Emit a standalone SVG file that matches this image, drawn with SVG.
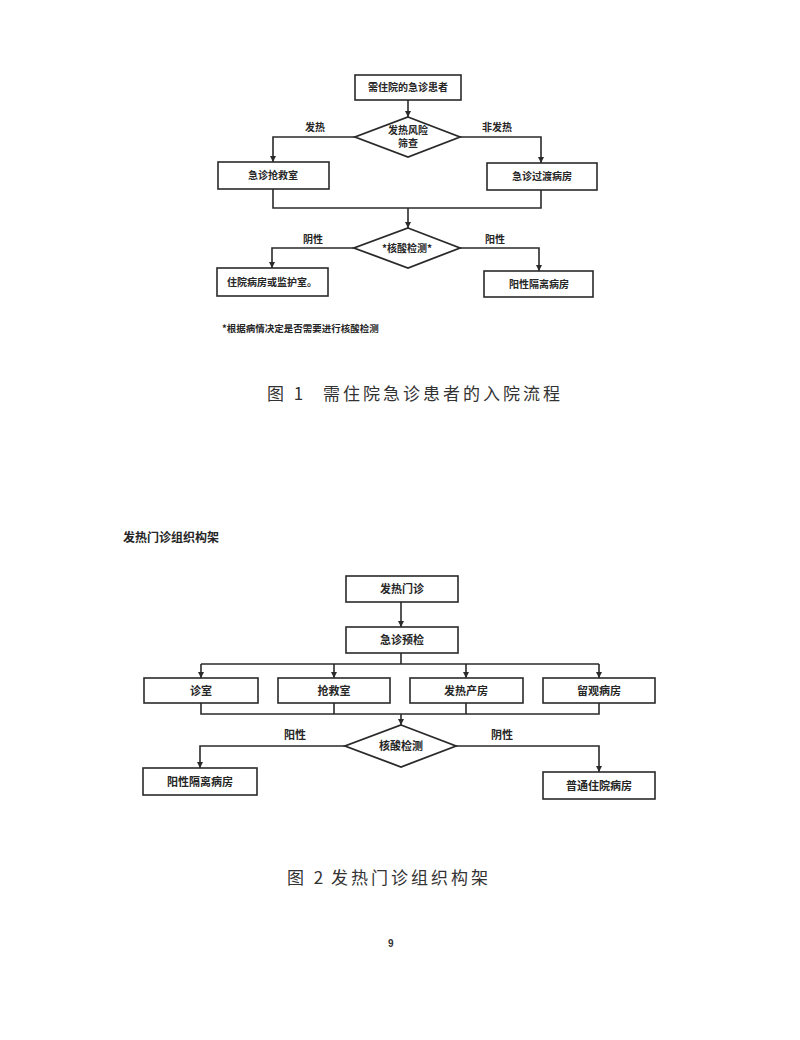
<svg xmlns="http://www.w3.org/2000/svg" width="800" height="1040" viewBox="0 0 800 1040">
<style>
.box{fill:#fff;stroke:#2a2a2a;stroke-width:1.6}
.dia{fill:#fff;stroke:#2a2a2a;stroke-width:1.8}
.ln{fill:none;stroke:#2a2a2a;stroke-width:1.6}
.t{font-family:"Noto Sans CJK SC","Noto Sans",sans-serif;font-weight:bold;fill:#262626;text-anchor:middle}
.s10{font-size:10px}
.s11{font-size:11px}
.cap{font-family:"Noto Sans CJK SC","Noto Sans",sans-serif;font-size:17px;fill:#333;letter-spacing:3px}
</style>
<defs>
<marker id="ah" viewBox="0 0 10 10" refX="10" refY="5" markerWidth="6" markerHeight="6" markerUnits="userSpaceOnUse" orient="auto">
<path d="M0,0 L10,5 L0,10 z" fill="#2a2a2a"/>
</marker>
</defs>
<rect width="800" height="1040" fill="#ffffff"/>

<!-- Figure 1 connectors -->
<g id="connectors1">
<path class="ln" d="M408,100 V117" marker-end="url(#ah)"/>
<path class="ln" d="M355,137 H273 V162" marker-end="url(#ah)"/>
<path class="ln" d="M460,137 H541 V163" marker-end="url(#ah)"/>
<path class="ln" d="M273,189 V208 H541 V190"/>
<path class="ln" d="M408,208 V228" marker-end="url(#ah)"/>
<path class="ln" d="M354,248 H272 V268" marker-end="url(#ah)"/>
<path class="ln" d="M460,248 H539 V271" marker-end="url(#ah)"/>
<text class="t s10" x="315" y="131">发热</text>
<text class="t s10" x="497" y="131">非发热</text>
<text class="t s10" x="313" y="243">阴性</text>
<text class="t s10" x="495" y="243">阳性</text>
</g>

<g id="f1-start">
<rect class="box" x="355" y="75" width="106" height="25"/>
<text class="t s10" x="408" y="91">需住院的急诊患者</text>
</g>
<g id="f1-screen">
<polygon class="dia" points="408,117 460,137 408,157 355,137"/>
<text class="t s10" x="408" y="134">发热风险</text>
<text class="t s10" x="408" y="147">筛查</text>
</g>
<g id="f1-rescue">
<rect class="box" x="218" y="162" width="111" height="27"/>
<text class="t s10" x="273" y="179">急诊抢救室</text>
</g>
<g id="f1-transit">
<rect class="box" x="487" y="163" width="110" height="27"/>
<text class="t s10" x="542" y="180">急诊过渡病房</text>
</g>
<g id="f1-test">
<polygon class="dia" points="408,228 460,248 408,268 354,248"/>
<text class="t s10" x="407" y="252">*核酸检测*</text>
</g>
<g id="f1-ward">
<rect class="box" x="217" y="268" width="111" height="28"/>
<text class="t s10" x="272" y="286">住院病房或监护室。</text>
</g>
<g id="f1-isolation">
<rect class="box" x="484" y="271" width="109" height="26"/>
<text class="t s10" x="539" y="288">阳性隔离病房</text>
</g>
<text class="t" style="font-size:9.5px;text-anchor:start" x="222" y="332">*根据病情决定是否需要进行核酸检测</text>

<text class="cap" x="267" y="400">图 1</text>
<text class="cap" x="323" y="400">需住院急诊患者的入院流程</text>

<!-- Figure 2 -->
<text class="t" style="font-size:12px;text-anchor:start" x="123" y="542">发热门诊组织构架</text>

<g id="connectors2">
<path class="ln" d="M401,602 V627" marker-end="url(#ah)"/>
<path class="ln" d="M401,653 V664"/>
<path class="ln" d="M201,664 H599"/>
<path class="ln" d="M201,664 V678" marker-end="url(#ah)"/>
<path class="ln" d="M334,664 V678" marker-end="url(#ah)"/>
<path class="ln" d="M466,664 V678" marker-end="url(#ah)"/>
<path class="ln" d="M599,664 V678" marker-end="url(#ah)"/>
<path class="ln" d="M201,703 V714 H599 V703"/>
<path class="ln" d="M334,703 V714"/>
<path class="ln" d="M466,703 V714"/>
<path class="ln" d="M401,714 V725" marker-end="url(#ah)"/>
<path class="ln" d="M345,746 H200 V768" marker-end="url(#ah)"/>
<path class="ln" d="M456,746 H599 V772" marker-end="url(#ah)"/>
<text class="t s11" x="295" y="739">阳性</text>
<text class="t s11" x="502" y="739">阴性</text>
</g>

<g id="f2-clinic">
<rect class="box" x="346" y="576" width="112" height="26"/>
<text class="t s11" x="402" y="593">发热门诊</text>
</g>
<g id="f2-triage">
<rect class="box" x="346" y="627" width="112" height="26"/>
<text class="t s11" x="402" y="644">急诊预检</text>
</g>
<g id="f2-room">
<rect class="box" x="144" y="678" width="114" height="25"/>
<text class="t s11" x="201" y="695">诊室</text>
</g>
<g id="f2-rescue">
<rect class="box" x="278" y="678" width="112" height="25"/>
<text class="t s11" x="334" y="695">抢救室</text>
</g>
<g id="f2-delivery">
<rect class="box" x="410" y="678" width="113" height="25"/>
<text class="t s11" x="466" y="695">发热产房</text>
</g>
<g id="f2-observe">
<rect class="box" x="543" y="678" width="112" height="25"/>
<text class="t s11" x="599" y="695">留观病房</text>
</g>
<g id="f2-test">
<polygon class="dia" points="401,725 456,746 401,767 345,746"/>
<text class="t s11" x="401" y="750">核酸检测</text>
</g>
<g id="f2-positive">
<rect class="box" x="143" y="768" width="114" height="27"/>
<text class="t s11" x="200" y="786">阳性隔离病房</text>
</g>
<g id="f2-negative">
<rect class="box" x="543" y="772" width="112" height="27"/>
<text class="t s11" x="599" y="790">普通住院病房</text>
</g>

<text class="cap" x="287" y="884">图 2</text>
<text class="cap" x="331" y="884">发热门诊组织构架</text>

<text x="388" y="947" style="font-family:'Liberation Sans',sans-serif;font-size:10px;font-weight:bold;fill:#333">9</text>
</svg>
